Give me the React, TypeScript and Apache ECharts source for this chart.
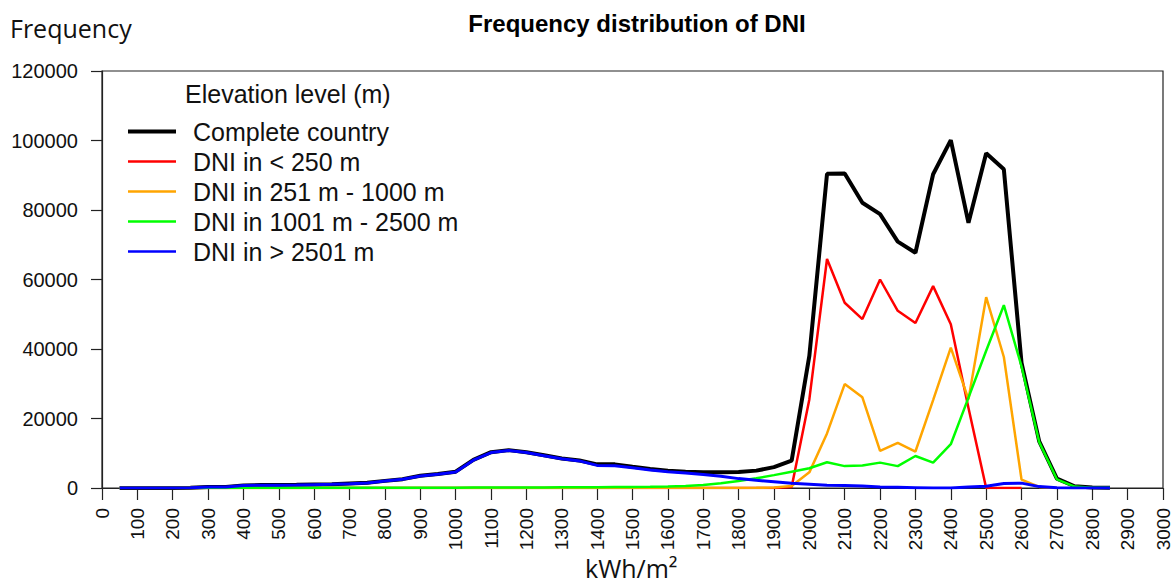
import React, { useEffect, useRef } from "react";
import * as echarts from "echarts";

const xValues = [
  50, 100, 150, 200, 250, 300, 350, 400, 450, 500, 550, 600, 650, 700, 750, 800, 850, 900, 950, 1000,
  1050, 1100, 1150, 1200, 1250, 1300, 1350, 1400, 1450, 1500, 1550, 1600, 1650, 1700, 1750, 1800, 1850, 1900, 1950, 2000,
  2050, 2100, 2150, 2200, 2250, 2300, 2350, 2400, 2450, 2500, 2550, 2600, 2650, 2700, 2750, 2800, 2850,
];

const completeCountry = [
  0, 0, 0, 0, 50, 300, 300, 750, 850, 850, 900, 1000, 1100, 1300, 1500, 2050, 2550, 3500, 4000, 4700,
  8100, 10300, 10900, 10300, 9400, 8500, 7900, 6800, 6800, 6100, 5500, 5000, 4700, 4500, 4500, 4600, 5000, 6000, 7900, 38000,
  90400, 90500, 82100, 78800, 70900, 67700, 90300, 100100, 76300, 96300, 91700, 36000, 13400, 2700, 500, 150, 50,
];

const below250 = [
  0, 0, 0, 0, 0, 0, 0, 0, 0, 0, 0, 0, 0, 0, 0, 0, 0, 0, 0, 0,
  0, 0, 0, 0, 0, 0, 0, 0, 0, 0, 0, 0, 0, 0, 0, 0, 0, 0, 300, 25500,
  65900, 53300, 48600, 60000, 51000, 47500, 58100, 47100, 23000, 0, 0, 0,
];

const from251to1000 = [
  0, 0, 0, 0, 0, 0, 0, 0, 0, 0, 0, 0, 0, 0, 0, 0, 0, 0, 0, 0,
  0, 0, 0, 0, 0, 0, 0, 0, 0, 0, 0, 0, 0, 0, 0, 0, 50, 150, 600, 4500,
  15700, 29900, 26100, 10700, 13000, 10500, 25300, 40400, 25500, 54900, 37700, 2400, 300, 0,
];

const from1001to2500 = [
  0, 0, 0, 0, 0, 0, 0, 50, 50, 80, 80, 90, 90, 100, 100, 100, 100, 100, 100, 100,
  110, 120, 130, 150, 170, 200, 220, 250, 280, 300, 350, 420, 580, 860, 1350, 2000, 2800, 3700, 4700, 5700,
  7400, 6300, 6500, 7300, 6300, 9200, 7300, 12600, 26000, 39500, 52600, 35000, 13200, 2500, 400, 100, 50,
];

const above2501 = [
  0, 0, 0, 0, 50, 300, 300, 700, 800, 800, 850, 950, 1050, 1250, 1450, 2000, 2500, 3450, 3950, 4600,
  8000, 10200, 10800, 10200, 9300, 8400, 7800, 6500, 6400, 5800, 5200, 4700, 4300, 3900, 3400, 2700, 2200, 1800, 1400, 1100,
  800, 700, 600, 300, 200, 100, 0, 0, 300, 500, 1300, 1400, 400, 50, 0, 0, 0,
];

const seriesNames = [
  "Complete country",
  "DNI in < 250 m",
  "DNI in 251 m - 1000 m",
  "DNI in 1001 m - 2500 m",
  "DNI in > 2501 m",
];
const seriesValues = [completeCountry, below250, from251to1000, from1001to2500, above2501];
const seriesColors = ["#000000", "#ff0000", "#ffa500", "#00ff00", "#0000ff"];
const seriesWidths = [4, 2.5, 2.5, 2.5, 3];
const legendIconHeights = [4, 2.5, 2.5, 2.5, 2.5];

const xTicks = { min: 0, max: 3000, interval: 100 };
const yTicks = { min: 0, max: 120000, interval: 20000 };

export default function App() {
  const ref = useRef<HTMLDivElement>(null);

  useEffect(() => {
    if (!ref.current) return;
    const chart = echarts.init(ref.current, undefined, { renderer: "svg" });
    const axisColor = "#222";
    const font = "Liberation Sans";

    chart.setOption({
      animation: false,
      backgroundColor: "#ffffff",
      grid: {
        left: 102,
        right: 13,
        top: 71,
        bottom: 95,
        show: true,
        borderColor: axisColor,
        borderWidth: 1.2,
        containLabel: false,
      },
      title: {
        text: "Frequency distribution of DNI",
        left: 632,
        top: 6,
        textAlign: "center",
        textStyle: { fontFamily: font, fontWeight: "bold", fontSize: 24, color: "#000" },
      },
      legend: {
        orient: "vertical",
        left: 123,
        top: 114,
        itemWidth: 48,
        itemHeight: 20,
        itemGap: 5,
        symbolKeepAspect: true,
        data: seriesNames.map((name, i) => ({
          name,
          icon: `path://M0,0 H48 V${legendIconHeights[i]} H0 Z`,
          itemStyle: { color: seriesColors[i] },
        })),
        textStyle: {
          fontFamily: font,
          fontSize: 25,
          lineHeight: 25,
          color: "#111",
          padding: [0, 0, 0, 12],
        },
      },
      graphic: [
        {
          type: "text",
          left: 185,
          top: 81,
          style: { text: "Elevation level (m)", font: `25px "${font}"`, fill: "#111" },
        },
        {
          type: "text",
          left: 10,
          top: 15,
          style: { text: "Frequency", font: `25px "Open Sans"`, fill: "#111" },
        },
        {
          type: "text",
          left: 585,
          top: 555,
          style: { text: "kWh/m²", font: `25px "Open Sans"`, fill: "#111" },
        },
      ],
      xAxis: {
        type: "value",
        min: xTicks.min,
        max: xTicks.max,
        interval: xTicks.interval,
        splitLine: { show: false },
        axisLine: { show: true, onZero: false, lineStyle: { color: axisColor, width: 1.2 } },
        axisTick: { show: true, inside: false, length: 12, lineStyle: { color: axisColor, width: 1.2 } },
        axisLabel: {
          rotate: 90,
          margin: 20,
          fontFamily: font,
          fontSize: 19,
          color: "#111",
          showMinLabel: true,
          showMaxLabel: true,
          formatter: (v: number) => String(v),
        },
      },
      yAxis: {
        type: "value",
        min: yTicks.min,
        max: yTicks.max,
        interval: yTicks.interval,
        splitLine: { show: false },
        axisLine: { show: true, lineStyle: { color: axisColor, width: 1.2 } },
        axisTick: { show: true, inside: false, length: 11, lineStyle: { color: axisColor, width: 1.2 } },
        axisLabel: {
          margin: 24,
          fontFamily: font,
          fontSize: 20,
          color: "#111",
          formatter: (v: number) => String(v),
        },
      },
      series: seriesNames.map((name, i) => ({
        name,
        type: "line",
        symbol: "none",
        z: 2 + i,
        data: xValues.slice(0, seriesValues[i].length).map((x, j) => [x, seriesValues[i][j]]),
        lineStyle: { color: seriesColors[i], width: seriesWidths[i] },
        itemStyle: { color: seriesColors[i] },
      })),
    });

    return () => chart.dispose();
  }, []);

  return (
    <div
      ref={ref}
      style={{ position: "absolute", left: 0, top: 0, width: 1176, height: 583 }}
    />
  );
}
